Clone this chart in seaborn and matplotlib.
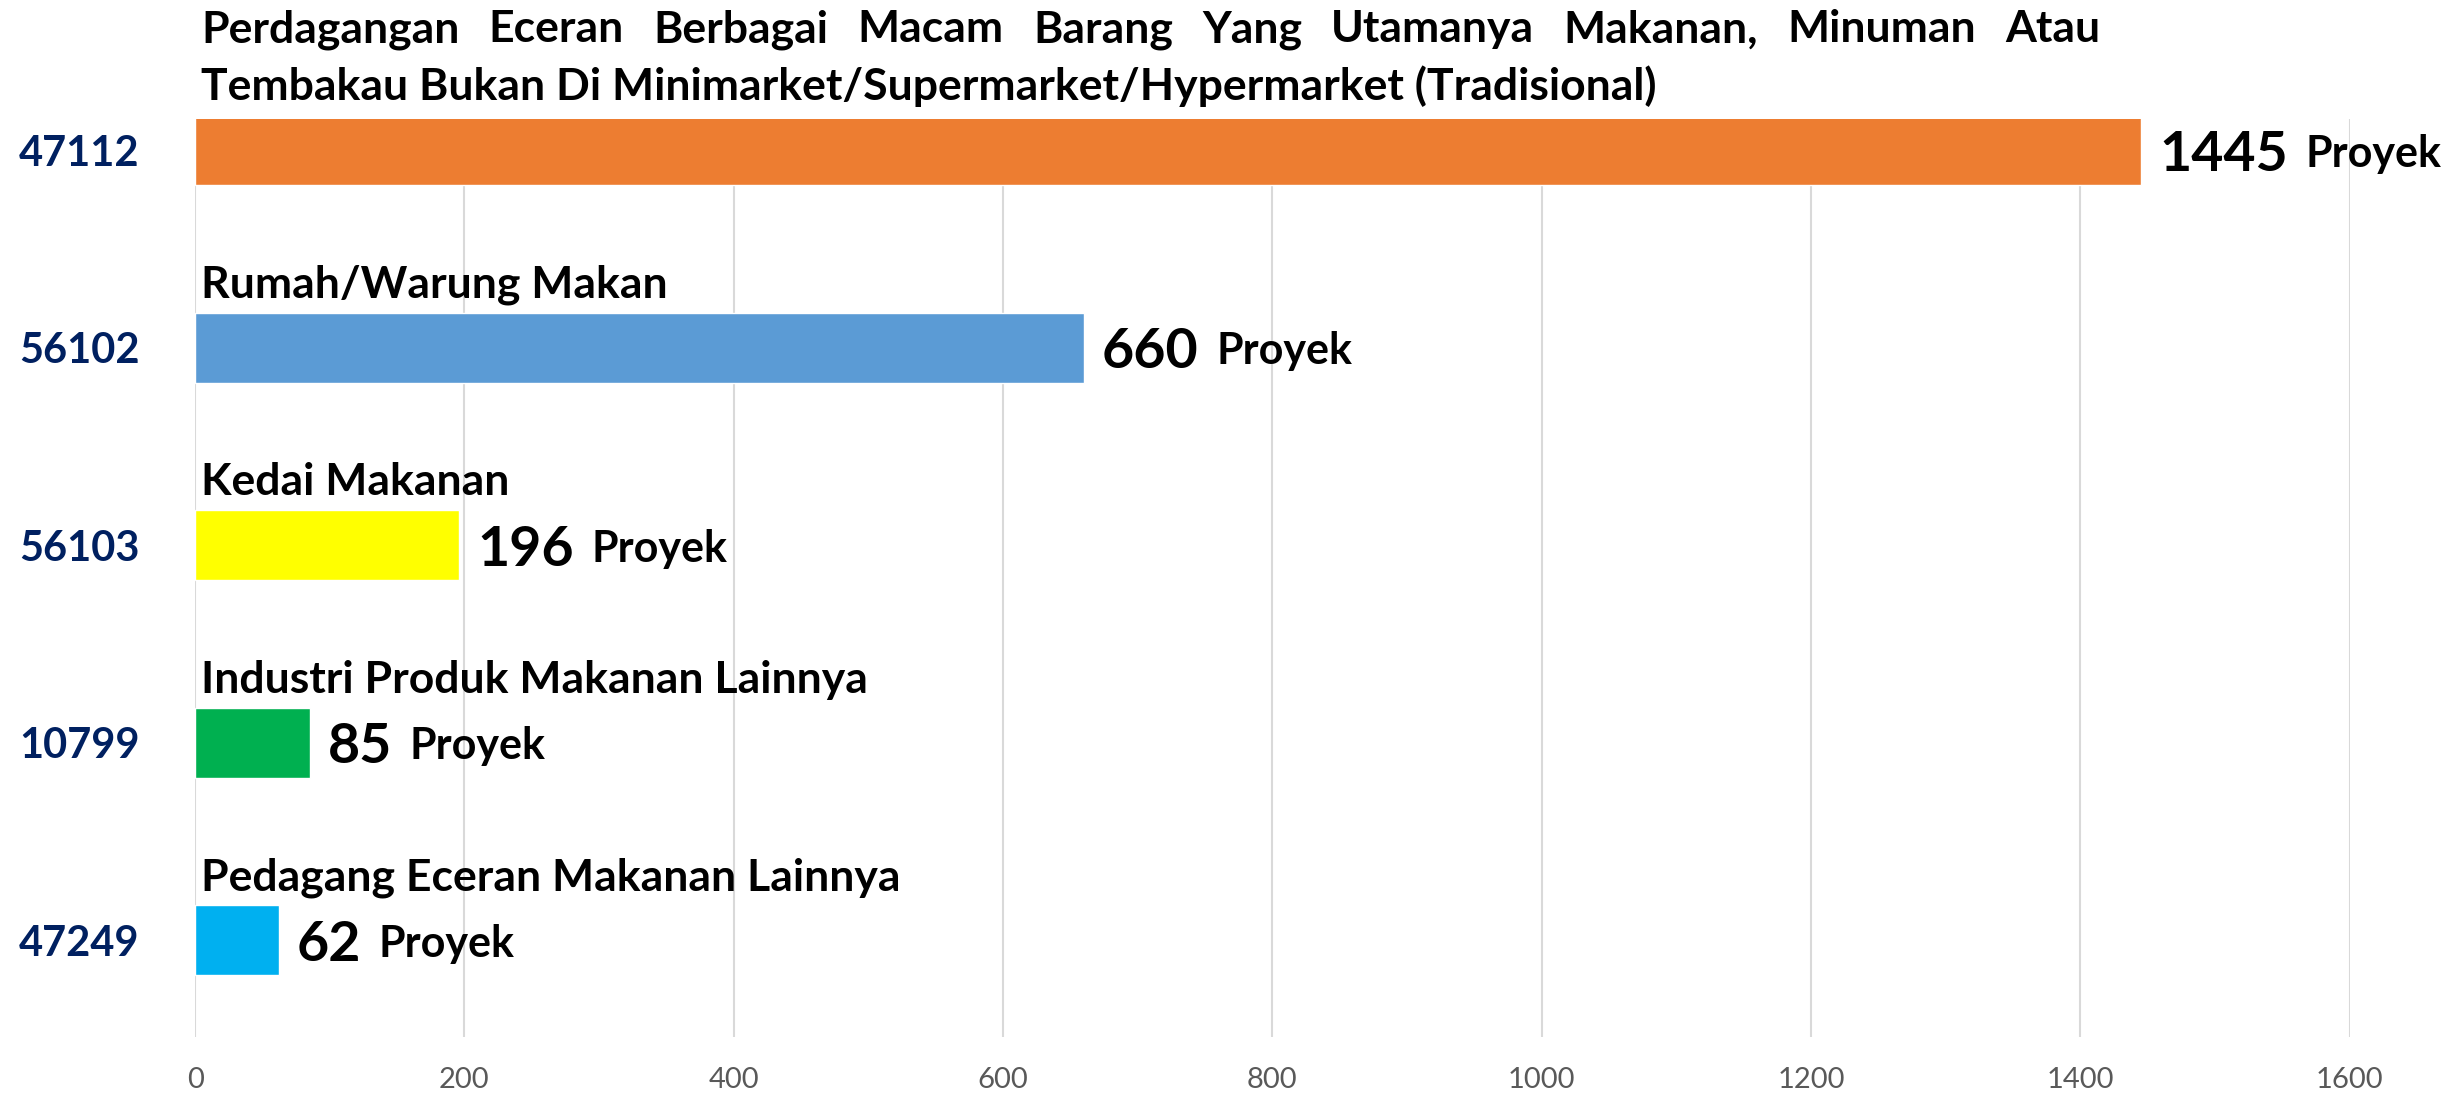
import numpy as np
import pandas as pd
import matplotlib
matplotlib.use("Agg")
import matplotlib.pyplot as plt
import matplotlib.transforms as mtransforms
import seaborn as sns

codes = ["47112", "56102", "56103", "10799", "47249"]
names = [
    "Perdagangan Eceran Berbagai Macam Barang Yang Utamanya Makanan, Minuman Atau\n"
    "Tembakau Bukan Di Minimarket/Supermarket/Hypermarket (Tradisional)",
    "Rumah/Warung Makan",
    "Kedai Makanan",
    "Industri Produk Makanan Lainnya",
    "Pedagang Eceran Makanan Lainnya",
]
values = [1445, 660, 196, 85, 62]
unit = "Proyek"
bar_colors = ["#ED7D31", "#5B9BD5", "#FFFF00", "#00B050", "#00B0F0"]
xticks = [0, 200, 400, 600, 800, 1000, 1200, 1400, 1600]

sns.set_theme(style="white")
FONT = ["Lato", "DejaVu Sans"]
plt.rcParams["font.family"] = FONT

df = pd.DataFrame({"code": codes, "value": values})

W, H = 2445, 1109
fig = plt.figure(figsize=(W / 100, H / 100), dpi=100)
ax = fig.add_axes([0.0798, 0.065, 0.8812, 0.828])

sns.barplot(data=df, x="value", y="code", hue="code", palette=bar_colors,
            orient="h", width=0.355, legend=False, saturation=1, ax=ax)

ax.set_xlim(0, 1600)
ax.set_ylim(4.49, -0.16)
ax.set_xticks(xticks)
ax.set_xticklabels([str(t) for t in xticks])
ax.xaxis.grid(True, color="#D9D9D9", linewidth=1.5)
ax.yaxis.grid(False)
ax.set_axisbelow(True)
for s in ax.spines.values():
    s.set_visible(False)
ax.set_xlabel("")
ax.set_ylabel("")
ax.tick_params(axis="x", length=0, pad=22, labelsize=21, labelcolor="#595959")
ax.tick_params(axis="y", length=0, pad=40, labelsize=30, labelcolor="#002060")
for lab in ax.get_yticklabels():
    lab.set_fontweight("bold")

fig.canvas.draw()
renderer = fig.canvas.get_renderer()
ident = mtransforms.IdentityTransform()

LABEL_FS = 32
UNIT_FS = 31
NUM_FS = 40
bars = [c[0] for c in ax.containers]
justify_right_px = ax.transData.transform((1415, 0))[0]

for i, bar in enumerate(bars):
    top = bar.get_y()
    width = bar.get_width()
    x0_px, ytop_px = ax.transData.transform((0, top))
    # category name above the bar
    lines = names[i].split("\n")
    base_y = ytop_px + 15
    line_gap = 58
    for j, line in enumerate(lines):
        ly = base_y + (len(lines) - 1 - j) * line_gap
        if j < len(lines) - 1:
            words = line.split(" ")
            objs = [fig.text(0, ly, w, transform=ident, fontsize=LABEL_FS,
                             fontweight="bold", color="black",
                             ha="left", va="baseline") for w in words]
            ws = [o.get_window_extent(renderer).width for o in objs]
            gap = (justify_right_px - (x0_px + 6) - sum(ws)) / (len(words) - 1)
            cx = x0_px + 6
            for o, w in zip(objs, ws):
                o.set_x(cx)
                cx += w + gap
        else:
            fig.text(x0_px + 6, ly, line, transform=ident, fontsize=LABEL_FS,
                     fontweight="bold", color="black", ha="left", va="baseline")
    # value label
    cy = bar.get_y() + bar.get_height() / 2
    vx_px, vy_px = ax.transData.transform((width, cy))
    num = fig.text(vx_px + 18, vy_px, str(values[i]), transform=ident,
                   fontsize=NUM_FS, fontweight="bold", color="black",
                   ha="left", va="center_baseline")
    ext = num.get_window_extent(renderer)
    fig.text(ext.x1 + 18, vy_px, unit, transform=ident, fontsize=UNIT_FS,
             fontweight="bold", color="black", ha="left", va="center_baseline")

fig.savefig("out.png", dpi=100, facecolor="white")
